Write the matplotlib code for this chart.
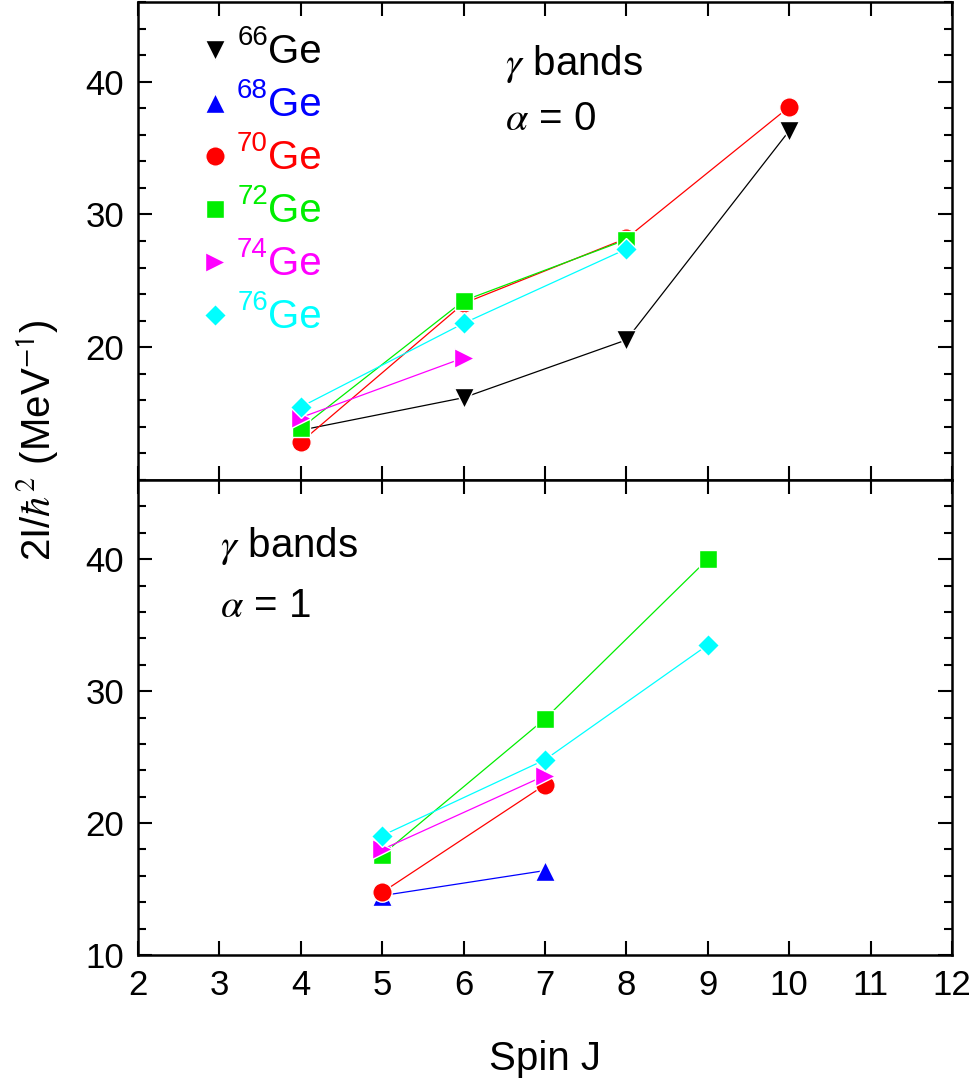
import matplotlib
matplotlib.use("Agg")
import matplotlib.pyplot as plt
from matplotlib.ticker import MultipleLocator

plt.rcParams["font.family"] = ["Liberation Sans", "DejaVu Sans"]
plt.rcParams["mathtext.fontset"] = "stix"

W, H = 979, 1078

# ---- data ----
isotopes = ["66", "68", "70", "72", "74", "76"]
colors = ["black", "blue", "red", "#00ee00", "magenta", "cyan"]
markers = ["v", "^", "o", "s", ">", "D"]
msizes = [15, 15, 14, 13, 15, 11.5]

# alpha = 0 (even spin)
j_a0 = {
    "66": [4, 6, 8, 10],
    "68": [],
    "70": [4, 6, 8, 10],
    "72": [4, 6, 8],
    "74": [4, 6],
    "76": [4, 6, 8],
}
i_a0 = {
    "66": [13.75, 16.2, 20.55, 36.3],
    "68": [],
    "70": [12.85, 23.3, 28.2, 38.1],
    "72": [13.9, 23.5, 28.1],
    "74": [14.7, 19.2],
    "76": [15.5, 21.8, 27.4],
}

# alpha = 1 (odd spin)
j_a1 = {
    "66": [],
    "68": [5, 7],
    "70": [5, 7],
    "72": [5, 7, 9],
    "74": [5, 7],
    "76": [5, 7, 9],
}
i_a1 = {
    "66": [],
    "68": [14.5, 16.4],
    "70": [14.75, 22.9],
    "72": [17.6, 27.9, 40.0],
    "74": [18.0, 23.6],
    "76": [19.05, 24.8, 33.5],
}


def fx(px):
    return px / W


def fy(py):
    return 1 - py / H


def style_axis(ax):
    ax.set_xlim(2, 12)
    ax.set_ylim(10, 46)
    ax.xaxis.set_major_locator(MultipleLocator(1))
    ax.yaxis.set_major_locator(MultipleLocator(10))
    ax.yaxis.set_minor_locator(MultipleLocator(2))
    ax.tick_params(which="both", direction="in", top=True, right=True,
                   labelsize=25, width=1.5)
    ax.tick_params(which="major", length=10, pad=10)
    ax.tick_params(which="minor", length=6)
    for sp in ax.spines.values():
        sp.set_linewidth(1.8)


fig = plt.figure(figsize=(W / 100, H / 100), dpi=100)
ax_top = fig.add_axes([fx(138), fy(480), fx(952 - 138), 478 / H])
ax_bot = fig.add_axes([fx(138), fy(955), fx(952 - 138), 475 / H])

for ax, jd, idata in ((ax_top, j_a0, i_a0), (ax_bot, j_a1, i_a1)):
    for iso, c, m, ms in zip(isotopes, colors, markers, msizes):
        if not jd[iso]:
            continue
        ax.plot(jd[iso], idata[iso], color=c, lw=0.9, marker=m, ms=ms,
                mfc=c, mec="white", mew=1.0)
    style_axis(ax)

ax_top.tick_params(labelbottom=False)
ax_top.set_yticks([20, 30, 40])
ax_bot.set_yticks([10, 20, 30, 40])

# legend built by hand: marker, superscript mass number, "Ge"
for k, (iso, c, m, ms) in enumerate(zip(isotopes, colors, markers, msizes)):
    yc = 50 + k * 53
    fig.lines.append(plt.Line2D([fx(215)], [fy(yc)], transform=fig.transFigure,
                                marker=m, ms=ms, color=c, mec="white",
                                mew=1.0, ls="none"))
    fig.text(fx(268), fy(yc - 5), iso, color=c, fontsize=20,
             ha="right", va="baseline")
    fig.text(fx(268), fy(yc + 13), "Ge", color=c, fontsize=29,
             ha="left", va="baseline")

fig.text(fx(505), fy(75), r"$\gamma$ bands", fontsize=29, va="baseline")
fig.text(fx(505), fy(130), r"$\alpha$ = 0", fontsize=29, va="baseline")
fig.text(fx(220), fy(557), r"$\gamma$ bands", fontsize=29, va="baseline")
fig.text(fx(220), fy(617), r"$\alpha$ = 1", fontsize=29, va="baseline")

fig.text(fx(37), fy(440), r"2I/$\hbar^2$ (MeV$^{\mathsf{-1}}$)", rotation=90,
         fontsize=29, va="center", ha="center")
fig.text(fx(545), fy(1070), "Spin J", fontsize=29, ha="center", va="baseline")

fig.savefig("out.png", dpi=100)
